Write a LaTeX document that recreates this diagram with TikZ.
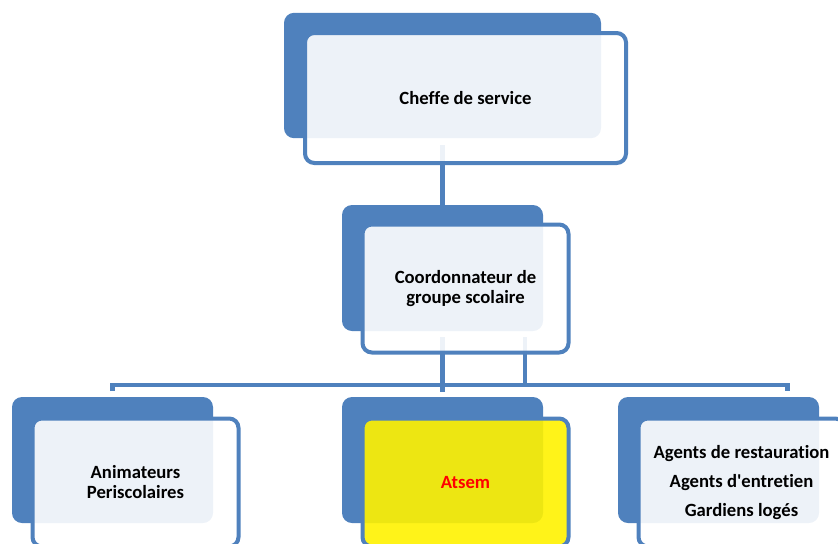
\documentclass[tikz,border=0pt]{standalone}
\usepackage{fontspec}
\setmainfont[Ligatures={NoCommon}]{Carlito}
\usetikzlibrary{calc,backgrounds}
\definecolor{orgblue}{HTML}{4F81BD}
\tikzset{
  backbox/.style={fill=orgblue, rounded corners=7.5pt, minimum width=150.75pt,
    minimum height=94.5pt, inner sep=0pt, outer sep=0pt},
  frontbox/.style={draw=orgblue, line width=3pt, fill=white, fill opacity=0.9,
    text opacity=1, rounded corners=7pt, minimum width=154.5pt, minimum height=96pt,
    inner sep=0pt, outer sep=0pt, align=center,
    font=\bfseries\fontsize{14pt}{15pt}\selectfont},
  link/.style={draw=orgblue, line width=3.25pt}
}

\begin{document}
\begin{tikzpicture}[x=0.75pt, y=-0.75pt]
  \clip (0,0) rectangle (838,543);
  \node[backbox, minimum width=237.75pt, minimum height=94pt] (chefb) at (442.5,75.5) {};
  \node[frontbox, minimum width=240.75pt, minimum height=97.5pt] (chef)
    at ($(chefb)+(23,22.5)$) {Cheffe de service};
  \node[backbox] (coordb) at (442.5,268) {};
  \node[frontbox] (coord) at ($(coordb)+(23,20.5)$) {Coordonnateur de\\groupe scolaire};
  \node[backbox] (animb) at (112.5,460) {};
  \node[frontbox] (anim) at ($(animb)+(23,22.5)$) {Animateurs\\Periscolaires};
  \node[backbox] (atsemb) at (442.5,460) {};
  \node[frontbox, fill=yellow, text=red] (atsem) at ($(atsemb)+(23,22.5)$) {Atsem};
  \node[backbox] (agentsb) at (718.5,460) {};
  \node[frontbox, font=\bfseries\fontsize{14pt}{21.5pt}\selectfont] (agents)
    at ($(agentsb)+(23,22.5)$) {Agents de restauration\\Agents d\textquotesingle entretien\\Gardiens logés};
  \coordinate (aux) at (525,331);
  \coordinate (busr) at (787.5,385);
  \coordinate (stubr) at (787.5,390.5);
  \begin{scope}[on background layer]
    \draw[link, shorten <=5.25pt] (chefb.south) -- (coordb.north);
    \draw[link, shorten <=4.5pt, shorten >=3.75pt] (coordb.south) -- (atsemb.north);
    \draw[link, shorten <=4.5pt] (aux) -- (aux |- busr);
    \draw[link, shorten <=4.5pt] (animb.north) |- (busr) -- (stubr);
  \end{scope}
\end{tikzpicture}
\end{document}
